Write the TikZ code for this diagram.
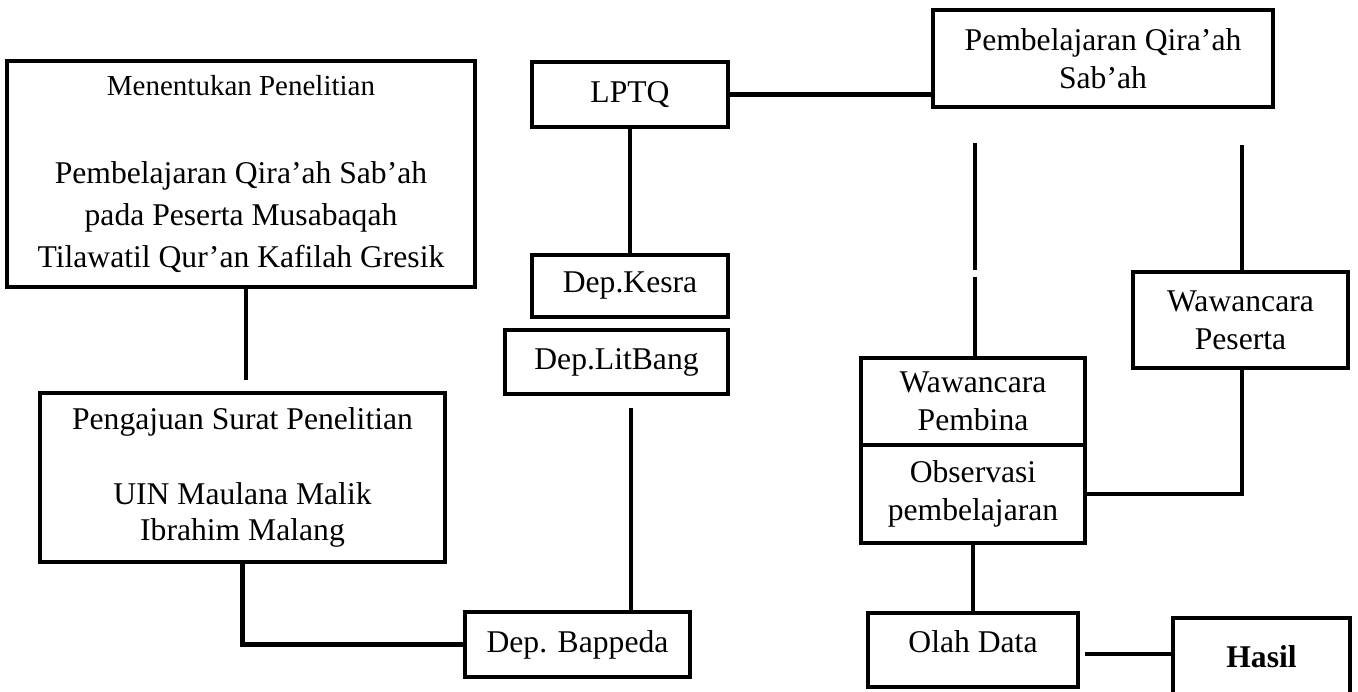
\documentclass[tikz,border=0pt]{standalone}
\usepackage{fontspec}
\setmainfont{Liberation Serif}
\usepackage{xcolor}
\usepackage{tikz}
\usetikzlibrary{positioning}

\begin{document}
\begin{tikzpicture}[
  flowbox/.style={rectangle,draw,line width=2.6pt,align=center,inner sep=2pt,font=\fontsize{18}{21.5}\selectfont},
  link/.style={line width=2.6pt}
]
  \useasboundingbox (0,0) rectangle (27.16,-13.82);

  \node[flowbox,minimum width=9.36cm,minimum height=4.52cm,font=\fontsize{18}{24}\selectfont] (topic) at (4.82,-3.48)
    {{\fontsize{16.5}{20}\selectfont Menentukan Penelitian}\\[26pt]Pembelajaran Qira'ah Sab'ah\\pada Peserta Musabaqah\\Tilawatil Qur'an Kafilah Gresik};
  \node[flowbox,minimum width=8.1cm,minimum height=3.38cm,font=\fontsize{18}{20.5}\selectfont] (letter) at (4.85,-9.55)
    {Pengajuan Surat Penelitian\\[22pt]UIN Maulana Malik\\Ibrahim Malang};
  \node[flowbox,minimum width=4.5cm,minimum height=1.3cm] (bappeda) at (11.55,-12.89) {Dep. Bappeda};
  \node[flowbox,minimum width=4.46cm,minimum height=1.28cm] (litbang) at (12.33,-7.24) {Dep.LitBang};
  \node[flowbox,minimum width=3.92cm,minimum height=1.24cm] (kesra) at (12.6,-5.72) {Dep.Kesra};
  \node[flowbox,minimum width=3.92cm,minimum height=1.3cm] (lptq) at (12.6,-1.89) {LPTQ};
  \node[flowbox,minimum width=6.8cm,minimum height=1.94cm] (qiraah) at (22.06,-1.17) {Pembelajaran Qira'ah\\Sab'ah};
  \node[flowbox,minimum width=4.3cm,minimum height=1.92cm] (peserta) at (24.81,-6.4) {Wawancara\\Peserta};
  \node[flowbox,minimum width=4.48cm,minimum height=1.74cm] (pembina) at (19.46,-8.03) {Wawancara\\Pembina};
  \node[flowbox,minimum width=4.48cm,minimum height=1.96cm] (observasi) at (19.46,-9.88) {Observasi\\pembelajaran};
  \node[flowbox,minimum width=4.2cm,minimum height=1.48cm,text depth=10pt] (olah) at (19.46,-13.0) {Olah Data};
  \node[flowbox,minimum width=3.54cm,minimum height=1.56cm,font=\fontsize{18}{21.5}\selectfont\bfseries] (hasil) at (25.23,-13.14) {Hasil};

  \coordinate (topicend) at (4.92,-7.6);
  \coordinate (litstart) at (12.62,-8.16);
  \coordinate (leftup) at (19.5,-2.86);
  \coordinate (leftmid) at (19.5,-5.4);
  \coordinate (leftlow) at (19.5,-5.54);
  \coordinate (rightup) at (24.84,-2.9);
  \coordinate (olahout) at (21.7,-13.08);

  \draw[link] (topic.south -| topicend) -- (topicend);
  \draw[link] (letter.south) -- (letter.south |- bappeda.west) -- (bappeda.west);
  \draw[link] (litstart) -- (litstart |- bappeda.north);
  \draw[link] (lptq.south) -- (kesra.north);
  \draw[link] (lptq.east) -- (lptq.east -| qiraah.west);
  \draw[link] (leftup) -- (leftmid);
  \draw[link] (leftlow) -- (leftlow |- pembina.north);
  \draw[link] (rightup) -- (rightup |- peserta.north);
  \draw[link] (peserta.south -| rightup) -- (rightup |- observasi.east) -- (observasi.east);
  \draw[link] (observasi.south) -- (olah.north);
  \draw[link] (olahout) -- (olahout -| hasil.west);
\end{tikzpicture}
\end{document}
